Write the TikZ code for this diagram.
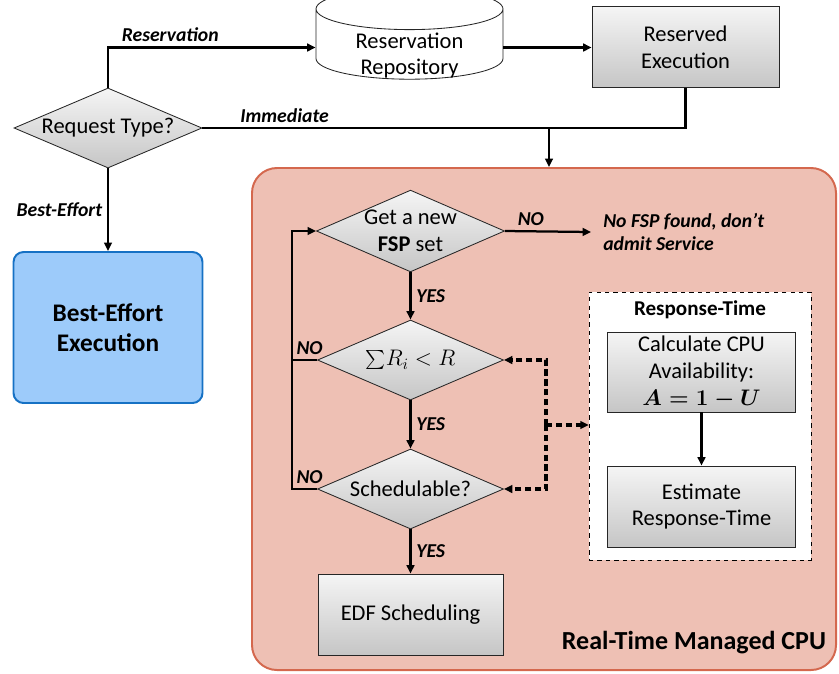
\RequirePackage{fix-cm}
\documentclass[tikz,border=0pt]{standalone}
\usepackage[no-math]{fontspec}
\setmainfont{Carlito}
\usepackage{xcolor}
\usepackage{tikz}
\usetikzlibrary{arrows.meta,positioning,shapes.geometric,calc}
\definecolor{rtfill}{RGB}{238,192,180}
\definecolor{rtedge}{RGB}{212,104,78}
\definecolor{befill}{RGB}{157,203,250}
\definecolor{beedge}{RGB}{22,113,196}
\newlength\pxu
\setlength\pxu{0.025cm}

\begin{document}
\begin{tikzpicture}[
  x=\pxu, y=-\pxu,
  txt/.style={font=\fontsize{16}{19}\selectfont, align=center},
  lbl/.style={font=\fontsize{14}{17}\selectfont\bfseries\itshape},
  graybox/.style={txt, rectangle, draw=black!85, semithick, top color=gray!8,
                  bottom color=gray!45, minimum width=187\pxu, minimum height=81\pxu},
  decision/.style={txt, diamond, draw=black!85, semithick, top color=gray!8,
                   bottom color=gray!45, aspect=2.3, inner sep=0pt,
                   minimum width=186\pxu, minimum height=80\pxu},
  link/.style={-{Triangle[length=6pt,width=5.5pt]}, line width=1.6pt},
  dlink/.style={link, line width=2.2pt, dash pattern=on 4.5pt off 2.5pt},
]
\useasboundingbox (0,0) rectangle (839,673);

% real-time area
\node[rectangle, draw=rtedge, line width=1.4pt, fill=rtfill, rounded corners=25\pxu,
      minimum width=584\pxu, minimum height=502\pxu] (rtcpu) at (544,419) {};
\node[font=\fontsize{18.5}{22}\selectfont\bfseries] (rtname) at (694,643) {Real-Time Managed CPU};

% top part
\node[cylinder, shape border rotate=90, aspect=0.32, draw=black!85, semithick,
      fill=white, minimum width=187\pxu, minimum height=91\pxu,
      label={[txt, yshift=-8\pxu]center:Reservation\\Repository}] (repo) at (409.5,47.5)
  {\hspace*{120\pxu}};
\node[graybox] (resv) at (685.5,47) {Reserved\\Execution};
\node[decision, minimum width=188\pxu] (req) at (108,128) {Request Type?};
\node[rectangle, draw=beedge, line width=1.4pt, fill=befill, rounded corners=10\pxu,
      minimum width=189\pxu, minimum height=151\pxu, align=center,
      font=\fontsize{18}{21.5}\selectfont\bfseries] (best) at (108,327.5)
  {Best-Effort\\Execution};

% admission loop
\node[decision] (fsp) at (410.5,231) {Get a new\\\textbf{FSP} set};
\node[decision] (sum) at (410.5,360)
  {\raisebox{-2\pxu}{\scalebox{1.35}{$\sum$}}$R_i < R$};
\node[decision] (sched) at (410.5,489) {Schedulable?};
\node[graybox, minimum width=185\pxu] (edf) at (410.5,614.5) {EDF Scheduling};
\node[lbl, anchor=west, align=left, inner xsep=12\pxu] (nofsp) at (591,232)
  {No FSP found, don’t\\admit Service};

% response time
\node[rectangle, draw, thin, dashed, fill=white, minimum width=222\pxu,
      minimum height=268\pxu] (rtbox) at (700,426) {};
\node[font=\fontsize{15}{18}\selectfont\bfseries] (rttitle) at (700,310) {Response-Time};
\node[graybox, minimum width=188\pxu, minimum height=80\pxu, inner ysep=1pt] (calc) at (701.5,372)
  {Calculate CPU\\Availability:\\{\boldmath$A=1-U$}};
\node[graybox, minimum width=188\pxu] (est) at (701.5,506.5) {Estimate\\Response-Time};

\coordinate (join) at (549,128);
\coordinate (dj) at (546,425);

\draw[link] (req.north) |- node[lbl, above, pos=0.65] {Reservation} (repo.west);
\draw[link] (repo.east) -- (repo.east -| resv.west);
\draw[line width=1.6pt] (req.east) -- node[lbl, above, pos=0.17] {Immediate}
  (req.east -| resv.south) -- (resv.south);
\draw[link] (join) -- (join |- rtcpu.north);
\draw[link] (req.south) -- node[lbl, left] {Best-Effort} (best.north);

\draw[link] (fsp.east) -- node[lbl, above, pos=0.3] {NO} (nofsp.west);
\draw[link] (fsp.south) -- node[lbl, right] {YES} (sum.north);
\draw[link] (sum.south) -- node[lbl, right] {YES} (sched.north);
\draw[link] (sched.south) -- node[lbl, right] {YES} (edf.north);
\draw[link] (sched.west) -- node[lbl, above, pos=0.3] {NO} ++(-25,0) coordinate (loopc)
  |- (fsp.west);
\draw[line width=1.6pt] (sum.west) -- node[lbl, above, pos=0.3] {NO} (sum.west -| loopc);

\draw[dlink] (dj) -- (dj -| rtbox.west);
\draw[dlink] (dj) |- (sum.east);
\draw[dlink] (dj) |- (sched.east);
\draw[link] (calc.south) -- (est.north);

\end{tikzpicture}
\end{document}
